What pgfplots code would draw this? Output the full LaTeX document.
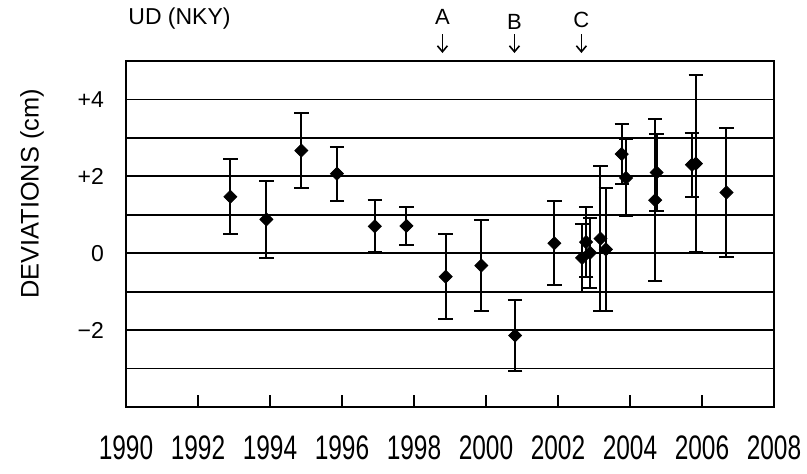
\documentclass[border=0pt]{standalone}
\usepackage{pgfplots}
\pgfplotsset{compat=1.18}
\usepackage{pgfplotstable}
\usepackage{fontspec}
\setmainfont{Liberation Sans}
\usetikzlibrary{arrows.meta}

% Vertical deviations at NKY: epoch, deviation (cm), one-sigma error (cm)
\pgfplotstableread{
year     dev    err
1992.90  1.47   0.98
1993.90  0.88   1.00
1994.87  2.67   0.98
1995.86  2.07   0.70
1996.91  0.70   0.68
1997.79  0.71   0.49
1998.88 -0.61   1.10
1999.87 -0.32   1.18
2000.81 -2.14   0.93
2001.90  0.26   1.09
2002.67 -0.12   0.88
2002.78  0.29   0.91
2002.89  0.01   0.91
2003.18  0.38   1.88
2003.33  0.10   1.60
2003.77  2.58   0.79
2003.89  1.96   1.00
2004.70  1.38   2.10
2004.74  2.10   1.01
2005.72  2.30   0.84
2005.83  2.33   2.30
2006.68  1.58   1.67
}\deviations

\begin{document}
\begin{tikzpicture}
\useasboundingbox (-63pt,-33pt) rectangle (340.5pt,203.5pt);
\begin{axis}[
  at={(0pt,0pt)}, anchor=south west,
  scale only axis, width=324pt, height=173pt,
  xmin=1990, xmax=2008, ymin=-4, ymax=5,
  clip=false,
  axis line style={line width=1.3pt},
  xtick={1990,1992,...,2008},
  xticklabels={1990,1992,1994,1996,1998,2000,2002,2004,2006,2008},
  xtick pos=left, tick align=inside,
  xtick style={line width=0.6pt, black},
  major tick length=6pt,
  xticklabel style={font=\fontsize{17}{17}\selectfont, xscale=0.72, yshift=-11pt},
  ytick={-3,...,4},
  yticklabels={,−2,,0,,+2,,+4},
  ytick style={draw=none},
  yticklabel style={font=\fontsize{11.5}{12}\selectfont, xshift=-7.5pt},
  ymajorgrids,
  grid style={black, line width=0.9pt},
  ylabel={DEVIATIONS (cm)},
  ylabel style={at={(axis description cs:-0.145,0.616)}, anchor=center,
                font=\fontsize{12.7}{13}\selectfont},
]
\addplot[only marks, black, mark=square*, mark size=2.3pt,
         mark options={rotate=45, fill=black},
         error bars/.cd, y dir=both, y explicit,
         error bar style={line width=1pt, black},
         error mark options={rotate=90, mark size=3.6pt, line width=1pt, black}]
  table[x=year, y=dev, y error=err] {\deviations};

% event markers above the frame
\foreach \ev/\yr/\ly in {A/1998.79/18pt, B/2000.79/15.5pt, C/2002.65/16.5pt}{
  \edef\tmp{\noexpand\node[anchor=south, inner sep=0pt, font=\noexpand\fontsize{11}{12}\noexpand\selectfont]
     at (axis cs:\yr,5) [yshift=\ly] {\ev};
   \noexpand\draw[line width=0.8pt, -{Straight Barb[length=3pt,width=5pt]}]
     ([yshift=13.5pt]axis cs:\yr,5) -- ([yshift=4pt]axis cs:\yr,5);}
  \tmp
}

\node[anchor=west, inner sep=0pt, font=\fontsize{11.5}{12}\selectfont]
  at (rel axis cs:0,1) [xshift=1pt, yshift=21pt] {UD (NKY)};
\end{axis}
\end{tikzpicture}
\end{document}
